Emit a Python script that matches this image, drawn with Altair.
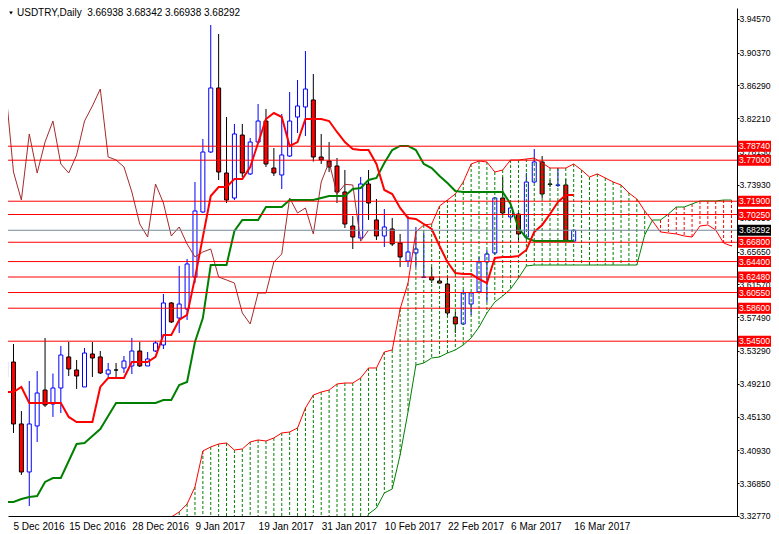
import altair as alt
import pandas as pd

# ---------------- data (bar index 0 = 5 Dec 2016 ... 72 = 16 Mar 2017) ----------------
opens = [3.5005, 3.5191, 3.4421, 3.3824, 3.4396, 3.4843, 3.4669, 3.4868, 3.5254, 3.5092,
         3.4881, 3.5291, 3.5254, 3.5042, 3.5092, 3.5117, 3.5142, 3.5328, 3.5142, 3.5328,
         3.5403, 3.5925, 3.5738, 3.5850, 3.6248, 3.7056, 3.7802, 3.8598, 3.7541, 3.7230,
         3.8013, 3.7529, 3.7926, 3.8187, 3.7603, 3.7516, 3.7752, 3.8237, 3.8362, 3.8449,
         3.7740, 3.7690, 3.7628, 3.7305, 3.6882, 3.6733, 3.7404, 3.6957, 3.6758, 3.6845,
         3.6671, 3.6447, 3.6546, 3.6242, 3.6248, 3.6198, 3.6161, 3.5751, 3.5664, 3.5912,
         3.6062, 3.6435, 3.6546, 3.7230, 3.6994, 3.7031, 3.6745, 3.7429, 3.7678, 3.7404,
         3.7388, 3.7392, 3.66938]
highs = [3.5620, 3.5415, 3.4582, 3.4955, 3.5079, 3.5490, 3.5048, 3.5390, 3.5440, 3.5216,
         3.5365, 3.5440, 3.5328, 3.5179, 3.5179, 3.5266, 3.5490, 3.5440, 3.5316, 3.5453,
         3.6037, 3.5937, 3.6385, 3.6472, 3.7429, 3.7964, 3.9381, 3.9269, 3.8237, 3.8150,
         3.8150, 3.7976, 3.8399, 3.8337, 3.7852, 3.8275, 3.8548, 3.8697, 3.9058, 3.8772,
         3.8026, 3.7926, 3.7727, 3.7579, 3.7006, 3.7491, 3.7578, 3.7218, 3.7093, 3.6982,
         3.6783, 3.7006, 3.6870, 3.6795, 3.6372, 3.6248, 3.6261, 3.5813, 3.6086, 3.6062,
         3.6497, 3.6584, 3.7243, 3.7491, 3.7118, 3.7081, 3.7541, 3.7839, 3.7752, 3.7454,
         3.7603, 3.7466, 3.68342]
lows = [3.5005, 3.4309, 3.3787, 3.3401, 3.4197, 3.4632, 3.4508, 3.4557, 3.5017, 3.4856,
        3.4881, 3.5005, 3.5042, 3.5005, 3.5005, 3.5055, 3.5042, 3.5129, 3.5142, 3.5316,
        3.5353, 3.5676, 3.5552, 3.5714, 3.6173, 3.7044, 3.7790, 3.7454, 3.7168, 3.7205,
        3.7491, 3.7516, 3.7914, 3.7616, 3.7504, 3.7342, 3.7740, 3.8038, 3.8001, 3.7683,
        3.7653, 3.7553, 3.7168, 3.6857, 3.6596, 3.6720, 3.6957, 3.6708, 3.6621, 3.6633,
        3.6372, 3.6372, 3.6372, 3.6236, 3.6173, 3.6161, 3.5750, 3.5552, 3.5651, 3.5776,
        3.6049, 3.5937, 3.6522, 3.7019, 3.6957, 3.6708, 3.6720, 3.7417, 3.7230, 3.7367,
        3.7367, 3.6690, 3.66938]
closes = [3.5191, 3.4421, 3.3824, 3.4421, 3.4806, 3.4657, 3.4868, 3.5278, 3.5104, 3.5017,
          3.5303, 3.5241, 3.5055, 3.5092, 3.5092, 3.5204, 3.5328, 3.5142, 3.5229, 3.5428,
          3.5925, 3.5689, 3.5912, 3.6410, 3.7069, 3.7802, 3.8598, 3.7553, 3.7205, 3.8026,
          3.7541, 3.7926, 3.8187, 3.7653, 3.7541, 3.7765, 3.8187, 3.8374, 3.8585, 3.7740,
          3.7703, 3.7616, 3.7305, 3.6907, 3.6745, 3.7404, 3.7168, 3.6758, 3.6870, 3.6658,
          3.6497, 3.6559, 3.6596, 3.6248, 3.6211, 3.6173, 3.5801, 3.5664, 3.6049, 3.6049,
          3.6435, 3.6534, 3.7230, 3.7044, 3.7106, 3.6783, 3.7429, 3.7678, 3.7280, 3.7400,
          3.7392, 3.6694, 3.68292]

tenkan = [3.4818, 3.4818, 3.4881, 3.4682, 3.4682, 3.4682, 3.4682, 3.4682, 3.4508, 3.4445,
          3.4445, 3.4445, 3.4881, 3.4992, 3.4992, 3.4992, 3.5191, 3.5191, 3.5191, 3.5254,
          3.5527, 3.5527, 3.5714, 3.5776, 3.6236, 3.6745, 3.7255, 3.7367, 3.7367, 3.7466,
          3.7466, 3.7616, 3.7914, 3.8212, 3.8287, 3.8237, 3.7877, 3.7926, 3.8212, 3.8212,
          3.8212, 3.8187, 3.8051, 3.7926, 3.7839, 3.7827, 3.7827, 3.7653, 3.7330, 3.7280,
          3.7106, 3.6982, 3.6969, 3.6907, 3.6845, 3.6633, 3.6435, 3.6298, 3.6285, 3.6285,
          3.6223, 3.6173, 3.6484, 3.6497, 3.6497, 3.6509, 3.6584, 3.6808, 3.6895, 3.7031,
          3.7180, 3.7268, 3.7268]
kijun = [3.3451, 3.3451, 3.3488, 3.3513, 3.3525, 3.3700, 3.3749, 3.3749, 3.3961, 3.4172,
         3.4184, 3.4271, 3.4358, 3.4520, 3.4682, 3.4682, 3.4682, 3.4682, 3.4682, 3.4682,
         3.4719, 3.4719, 3.4906, 3.4943, 3.5440, 3.5738, 3.6397, 3.6397, 3.6397, 3.6820,
         3.6957, 3.6957, 3.6957, 3.7118, 3.7118, 3.7118, 3.7205, 3.7205, 3.7205, 3.7205,
         3.7230, 3.7255, 3.7255, 3.7255, 3.7342, 3.7355, 3.7454, 3.7479, 3.7665, 3.7827,
         3.7877, 3.7877, 3.7827, 3.7653, 3.7603, 3.7504, 3.7417, 3.7317, 3.7305, 3.7305,
         3.7305, 3.7305, 3.7305, 3.7305, 3.7156, 3.6857, 3.6733, 3.6696, 3.6696, 3.6696,
         3.6696, 3.6696, 3.6696]

# Senkou spans, bar index 21 ... 92 (projected 26 bars ahead)
SPAN_START = 21
span_a = [3.3264, 3.3327, 3.3426, 3.3637, 3.4085, 3.4135, 3.4172, 3.4184, 3.4097, 3.4110,
          3.4197, 3.4222, 3.4209, 3.4247, 3.4309, 3.4321, 3.4371, 3.4619, 3.4781, 3.4818,
          3.4843, 3.4918, 3.4930, 3.4930, 3.4992, 3.5117, 3.5117, 3.5316, 3.5341, 3.5850,
          3.6173, 3.6808, 3.6895, 3.6907, 3.7131, 3.7205, 3.7280, 3.7429, 3.7653, 3.7690,
          3.7678, 3.7553, 3.7578, 3.7703, 3.7703, 3.7715, 3.7727, 3.7665, 3.7603, 3.7603,
          3.7603, 3.7653, 3.7578, 3.7491, 3.7529, 3.7479, 3.7429, 3.7392, 3.7292, 3.7218,
          3.7069, 3.6944, 3.6808, 3.6795, 3.6783, 3.6758, 3.6745, 3.6882, 3.6895, 3.6832,
          3.6671, 3.6633]
span_b = [3.3000, 3.3000, 3.3000, 3.3000, 3.3000, 3.3000, 3.3000, 3.3000, 3.3000, 3.3000,
          3.3000, 3.3000, 3.3000, 3.3000, 3.3000, 3.3000, 3.3000, 3.3000, 3.3000, 3.3000,
          3.3000, 3.3000, 3.3000, 3.3000, 3.3000, 3.3302, 3.3376, 3.3563, 3.3613, 3.4035,
          3.4570, 3.5154, 3.5179, 3.5241, 3.5254, 3.5303, 3.5341, 3.5403, 3.5490, 3.5626,
          3.5801, 3.5937, 3.6012, 3.6099, 3.6236, 3.6385, 3.6397, 3.6397, 3.6397, 3.6397,
          3.6397, 3.6397, 3.6397, 3.6397, 3.6397, 3.6397, 3.6397, 3.6397, 3.6397, 3.6397,
          3.6770, 3.6957, 3.6957, 3.7031, 3.7118, 3.7118, 3.7156, 3.7193, 3.7193, 3.7193,
          3.7205, 3.7205]

levels = [3.78740, 3.77000, 3.71900, 3.70250, 3.66800, 3.64400, 3.62480, 3.60550, 3.58600, 3.54500]
last_price = 3.68292
y_ticks = [3.94570, 3.90370, 3.86290, 3.82210, 3.78130, 3.73930, 3.69850, 3.65650,
           3.61570, 3.57490, 3.53290, 3.49210, 3.45130, 3.40930, 3.36850, 3.32770]
x_tick_idx = [0, 8, 16, 24, 32, 40, 48, 56, 64, 72]
x_tick_labels = ["5 Dec 2016", "15 Dec 2016", "28 Dec 2016", "9 Jan 2017", "19 Jan 2017",
                 "31 Jan 2017", "10 Feb 2017", "22 Feb 2017", "6 Mar 2017", "16 Mar 2017"]
symbol_title = "USDTRY,Daily"

# ---------------- frames ----------------
n = len(closes)
cdf = pd.DataFrame({"i": list(range(n)), "open": opens, "high": highs, "low": lows, "close": closes,
                    "tenkan": tenkan, "kijun": kijun})
bull = cdf[cdf["close"] > cdf["open"]]
bear = cdf[cdf["close"] <= cdf["open"]]

chik = pd.DataFrame({"i": list(range(n - 26)), "v": closes[26:]})

sdf = pd.DataFrame({"j": list(range(SPAN_START, SPAN_START + len(span_a))), "a": span_a, "b": span_b})
sdf["top"] = sdf[["a", "b"]].max(axis=1)
sdf["bot"] = sdf[["a", "b"]].min(axis=1)
s_up = sdf[sdf["a"] > sdf["b"]]
s_dn = sdf[sdf["a"] <= sdf["b"]]

ldf = pd.DataFrame({"p": levels, "lab": [f"{v:.5f}" for v in levels]})
pdf = pd.DataFrame({"p": [last_price], "lab": [f"{last_price:.5f}"]})
tdf = pd.DataFrame({"t": [symbol_title + "\u00a0\u00a0" + " ".join(f"{v:.5f}" for v in
                          (opens[-1], highs[-1], lows[-1], closes[-1]))]})

# ---------------- scales / axes ----------------
X_MIN, X_MAX = 0.9375, 92.0625
Y_MIN, Y_MAX = 3.32768, 3.95922
W, H = 729, 508
FONT = "Liberation Sans"
AX_FS = 8.6
xs = alt.Scale(domain=[X_MIN, X_MAX], nice=False, zero=False)
ys = alt.Scale(domain=[Y_MIN, Y_MAX], nice=False, zero=False)

x_tick_pos = [X_MIN if v < X_MIN else v for v in x_tick_idx]
label_map = "{" + ",".join(f"'{p}':'{l}'" for p, l in zip(x_tick_pos, x_tick_labels)) + "}"
x_axis = alt.Axis(values=x_tick_pos, labelExpr=f"{label_map}[datum.value]", labelAlign="left",
                  labelFont=FONT, labelFontSize=10, labelColor="black", ticks=False,
                  labelPadding=5, domainColor="black", grid=False, title=None,
                  labelOverlap=False, labelFlush=False, labelBound=False)
y_axis = alt.Axis(orient="right", values=y_ticks, format=".5f", labelFont=FONT, labelFontSize=AX_FS,
                  labelColor="black", tickColor="black", tickSize=2, labelPadding=0,
                  domainColor="black", grid=False, title=None, labelOverlap=False)


def X(f="i"):
    return alt.X(f"{f}:Q", scale=xs, axis=x_axis)


def Y(f):
    return alt.Y(f"{f}:Q", scale=ys, axis=y_axis)


wick_bear = alt.Chart(bear).mark_rule(color="#000000", strokeWidth=1, clip=True).encode(
    x=X(), y=Y("low"), y2="high:Q")
wick_bull = alt.Chart(bull).mark_rule(color="#0000ff", strokeWidth=1, clip=True).encode(
    x=X(), y=Y("low"), y2="high:Q")
body_bear = alt.Chart(bear).mark_bar(size=4, fill="#ff0000", stroke="#000000", strokeWidth=1,
                                     clip=True).encode(x=X(), y=Y("open"), y2="close:Q")
body_bull = alt.Chart(bull).mark_bar(size=4, fill="#ffffff", stroke="#0000ff", strokeWidth=1,
                                     clip=True).encode(x=X(), y=Y("open"), y2="close:Q")

hatch_up = alt.Chart(s_up).mark_rule(color="#008000", strokeWidth=1, strokeDash=[3, 2],
                                     clip=True).encode(x=X("j"), y=Y("top"), y2="bot:Q")
hatch_dn = alt.Chart(s_dn).mark_rule(color="#ff0000", strokeWidth=1, strokeDash=[3, 2],
                                     clip=True).encode(x=X("j"), y=Y("top"), y2="bot:Q")
line_a = alt.Chart(sdf).mark_line(color="#ff0000", strokeWidth=1, clip=True).encode(x=X("j"), y=Y("a"))
line_b = alt.Chart(sdf).mark_line(color="#008000", strokeWidth=1, clip=True).encode(x=X("j"), y=Y("b"))

chikou = alt.Chart(chik).mark_line(color="#a52a2a", strokeWidth=1, clip=True).encode(x=X(), y=Y("v"))
kij = alt.Chart(cdf).mark_line(color="#008000", strokeWidth=2, clip=True).encode(x=X(), y=Y("kijun"))
ten = alt.Chart(cdf).mark_line(color="#ff0000", strokeWidth=2, clip=True).encode(x=X(), y=Y("tenkan"))

lvl = alt.Chart(ldf).mark_rule(color="#ff0000", strokeWidth=1, clip=True).encode(y=Y("p"))
cur = alt.Chart(pdf).mark_rule(color="#778899", strokeWidth=1, clip=True).encode(y=Y("p"))

BOX_L, BOX_R, TXT_X = 730, 763, 731
lvl_box = alt.Chart(ldf).mark_rect(color="#ff0000", yOffset=-5.5, y2Offset=5.5).encode(
    x=alt.value(BOX_L), x2=alt.value(BOX_R), y=Y("p"), y2="p:Q")
lvl_txt = alt.Chart(ldf).mark_text(align="left", baseline="middle", color="white", font=FONT,
                                   fontSize=AX_FS).encode(x=alt.value(TXT_X), y=Y("p"), text="lab:N")
cur_box = alt.Chart(pdf).mark_rect(color="#000000", yOffset=-5.5, y2Offset=5.5).encode(
    x=alt.value(BOX_L), x2=alt.value(BOX_R), y=Y("p"), y2="p:Q")
cur_txt = alt.Chart(pdf).mark_text(align="left", baseline="middle", color="white", font=FONT,
                                   fontSize=AX_FS).encode(x=alt.value(TXT_X), y=Y("p"), text="lab:N")

title_txt = alt.Chart(tdf).mark_text(align="left", baseline="middle", color="black", font=FONT,
                                     fontSize=10).encode(x=alt.value(9), y=alt.value(5), text="t:N")
title_tri = alt.Chart(tdf).mark_point(shape="triangle-down", filled=True, color="black", size=14,
                                      opacity=1).encode(x=alt.value(3), y=alt.value(5))

chart = alt.layer(
    wick_bear, wick_bull, body_bear, body_bull,
    hatch_up, hatch_dn, line_a, line_b,
    chikou, kij, ten,
    lvl, cur, lvl_box, lvl_txt, cur_box, cur_txt,
    title_txt, title_tri,
).properties(width=W, height=H, padding=0, background="white").configure_view(stroke=None)

chart.save("out.html", embed_options={"renderer": "svg", "actions": False})
